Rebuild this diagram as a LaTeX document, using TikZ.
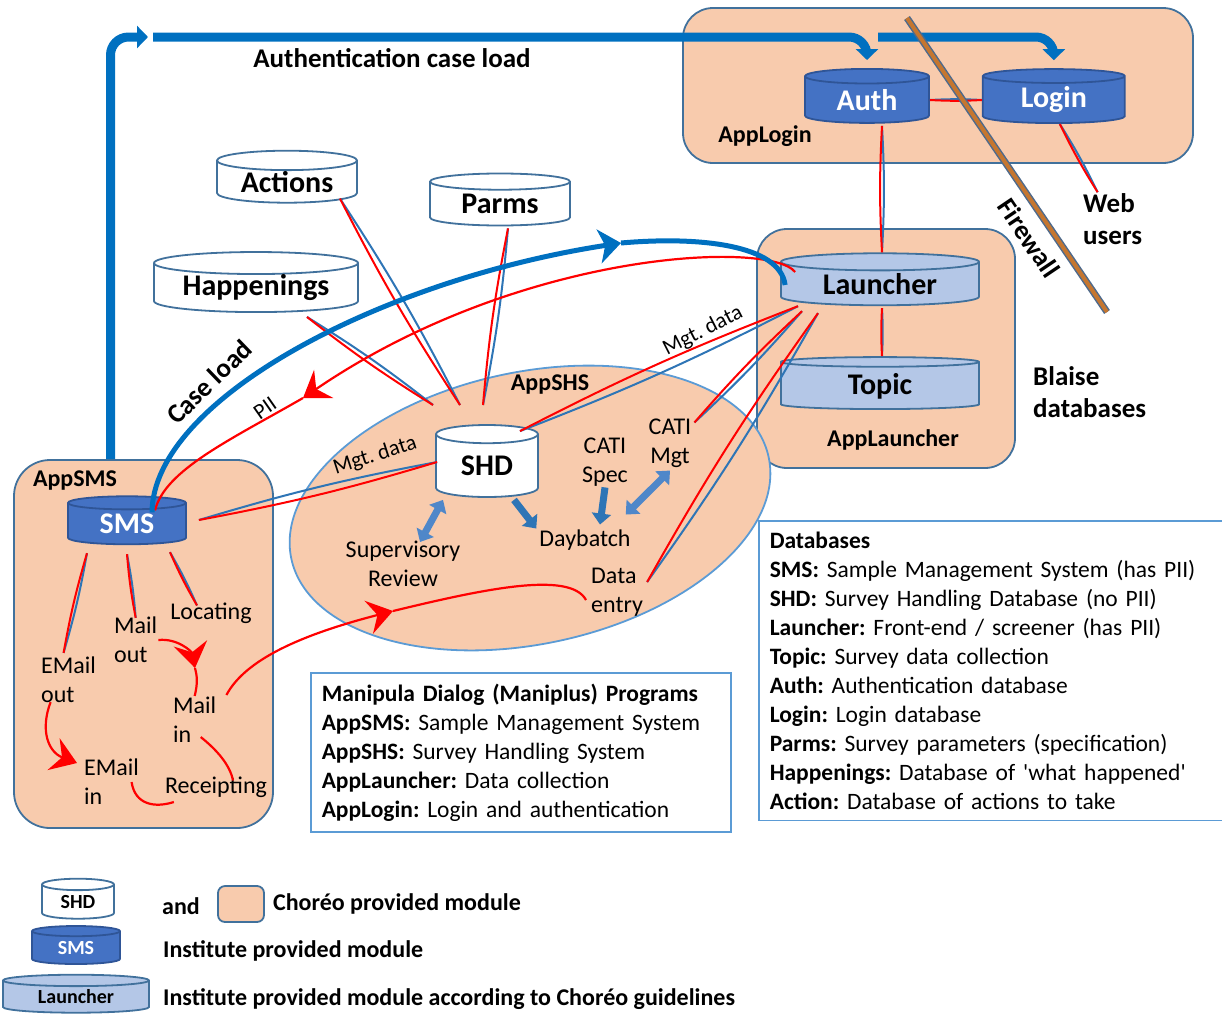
\documentclass[tikz,border=0pt]{standalone}
\usepackage{fontspec}
\setmainfont{Carlito}
\frenchspacing
\usetikzlibrary{arrows.meta,shapes.geometric,positioning,calc}

\definecolor{peach}{HTML}{F8CBAD}
\definecolor{boxedge}{HTML}{41719C}
\definecolor{instblue}{HTML}{4472C4}
\definecolor{instedge}{HTML}{2F5597}
\definecolor{guideblue}{HTML}{B4C7E7}
\definecolor{loadblue}{HTML}{0070C0}
\definecolor{linkblue}{HTML}{2E75B6}
\definecolor{linkred}{HTML}{FF0000}
\definecolor{shsedge}{HTML}{5B9BD5}
\definecolor{batchblue}{HTML}{4F87C9}
\definecolor{fwbrown}{HTML}{C5762F}
\definecolor{fwedge}{HTML}{4E6A8C}

\newcommand{\dbfont}{\fontsize{30}{32}\selectfont\bfseries}
\newcommand{\headfont}{\fontsize{27}{32}\selectfont\bfseries}
\newcommand{\appfont}{\fontsize{24}{28}\selectfont\bfseries}
\newcommand{\labfont}{\fontsize{24}{29}\selectfont}
\newcommand{\notefont}{\fontsize{23.5}{29}\selectfont}
\newcommand{\legfont}{\fontsize{24}{28}\selectfont\bfseries}
\newcommand{\smallfont}{\fontsize{22}{24}\selectfont}
\newcommand{\legdbfont}{\fontsize{20}{22}\selectfont\bfseries}

% blue and red line pair between two points
\newcommand{\datalink}[2]{%
  \draw[bluelink] (#1) to[bend left=3] (#2);
  \draw[redlink] (#1) to[bend right=3] (#2);}

\tikzset{
  module/.style={draw=boxedge, fill=peach, line width=1.8pt, rounded corners=30pt},
  db/.style={cylinder, shape border rotate=90, draw=boxedge, line width=1.8pt,
    inner sep=0pt, cylinder uses custom fill, font=\dbfont},
  whitedb/.style={db, cylinder body fill=white, cylinder end fill=white},
  instdb/.style={db, draw=instedge, cylinder body fill=instblue,
    cylinder end fill=instblue, text=white},
  guidedb/.style={db, cylinder body fill=guideblue, cylinder end fill=guideblue},
  bluelink/.style={draw=linkblue, line width=2pt},
  redlink/.style={draw=linkred, line width=2pt},
  loadflow/.style={draw=loadblue, line width=9pt, rounded corners=18pt,
    -{Triangle[length=11pt,width=22pt]}},
  caseflow/.style={draw=loadblue, line width=5pt},
  redflow/.style={draw=linkred, line width=2.2pt},
  redtip/.style={-{Stealth[length=25pt,width=34pt,inset=9pt]}},
  caseflowtip/.style={-{Stealth[length=22pt,width=34pt,inset=6pt]}},
  batch/.style={draw=linkblue, line width=7pt, -{Triangle[length=11pt,width=19pt]}},
  twoway/.style={draw=batchblue, line width=7pt,
    {Triangle[length=11pt,width=19pt]}-{Triangle[length=11pt,width=19pt]}},
  note/.style={draw=shsedge, line width=1.5pt, align=left, font=\notefont,
    inner sep=11pt, anchor=north west},
  lab/.style={font=\labfont, inner sep=1pt},
  firewall/.style={draw=fwedge, line width=1.5pt, double=fwbrown, double distance=4pt}
}

\begin{document}
\begin{tikzpicture}[x=1pt, y=-1pt]
  \useasboundingbox (0,0) rectangle (1222,1015);

  % MODULES
  \node[module, minimum width=510pt, minimum height=155pt] (applogin) at (938,85.5) {};
  \node[module, minimum width=258pt, minimum height=239pt] (applauncher) at (886,348.5) {};
  \node[module, minimum width=259pt, minimum height=368pt, rounded corners=36pt]
    (appsms) at (143.5,644) {};
  \node[ellipse, draw=shsedge, fill=peach, line width=1.8pt,
    minimum width=488pt, minimum height=272pt, rotate=12] (appshs) at (530,508) {};

  \node[font=\appfont] (apploginlabel) at (765,136) {AppLogin};
  \node[font=\appfont] (applauncherlabel) at (893,440) {AppLauncher};
  \node[font=\appfont] (appsmslabel) at (75,481) {AppSMS};
  \node[font=\appfont] (appshslabel) at (550,385) {AppSHS};

  % DATABASES
  \node[instdb, minimum width=124pt, minimum height=54pt, aspect=0.24] (auth) at (867,100) {Auth};
  \node[instdb, minimum width=142pt, minimum height=54pt, aspect=0.21,
    right=52pt of auth] (login) {Login};
  \node[guidedb, minimum width=198pt, minimum height=52pt, aspect=0.15] (launcher) at (880,284) {Launcher};
  \node[guidedb, minimum width=198pt, minimum height=52pt, aspect=0.15,
    below=50pt of launcher] (topic) {Topic};
  \node[whitedb, minimum width=140pt, minimum height=52pt, aspect=0.21] (actions) at (287,182) {Actions};
  \node[whitedb, minimum width=140pt, minimum height=52pt, aspect=0.21] (parms) at (500,204) {Parms};
  \node[whitedb, minimum width=204pt, minimum height=50pt, aspect=0.15] (happenings) at (256,288) {Happenings};
  \node[whitedb, minimum width=102pt, minimum height=72pt, aspect=0.35] (shd) at (487,466) {SHD};
  \node[instdb, minimum width=118pt, minimum height=48pt, aspect=0.24] (sms) at (127,524) {SMS};

  % LABELS
  \node[font=\headfont] (authload) at (392,58) {Authentication case load};
  \node[font=\headfont, align=left, anchor=west, inner sep=0pt] (web) at (1083,219) {Web\\users};
  \node[font=\headfont, align=left, anchor=west, inner sep=0pt] (blaise) at (1033,392) {Blaise\\databases};
  \node[font=\headfont, rotate=-56, inner sep=0pt] (fwlabel) at (1029,238) {Firewall};
  \node[font=\headfont, rotate=44, inner sep=0pt] (caseloadlabel) at (209,382) {Case load};
  \node[font=\smallfont, rotate=35, inner sep=0pt] (piilabel) at (265,408) {PII};
  \node[font=\smallfont, rotate=27, inner sep=0pt] (mgtupper) at (703,331) {Mgt. data};
  \node[font=\smallfont, rotate=18, inner sep=0pt] (mgtlower) at (375,456) {Mgt. data};

  \node[lab, align=left, anchor=west] (emailout) at (40,680) {EMail\\out};
  \node[lab, align=left, anchor=west] (mailout) at (113,640) {Mail\\out};
  \node[lab] (locating) at (211,613) {Locating};
  \node[lab, align=left, anchor=west] (mailin) at (172,720) {Mail\\in};
  \node[lab, align=left, anchor=west] (emailin) at (83,782) {EMail\\in};
  \node[lab] (receipting) at (216,787) {Receipting};

  \node[lab, align=center] (supervisory) at (403,564) {Supervisory\\Review};
  \node[lab] (daybatch) at (585,540) {Daybatch};
  \node[lab, align=center] (catispec) at (605,462) {CATI\\Spec};
  \node[lab, align=center] (catimgt) at (670,443) {CATI\\Mgt};
  \node[lab, align=left, anchor=west] (dataentry) at (590,592) {Data\\entry};

  % NOTES
  \node[note, text width=398pt] (maniplus) at (310,672) {%
    \textbf{Manipula Dialog (Maniplus) Programs}\\
    \textbf{AppSMS:} Sample Management System\\
    \textbf{AppSHS:} Survey Handling System\\
    \textbf{AppLauncher:} Data collection\\
    \textbf{AppLogin:} Login and authentication};
  \node[note, text width=446pt] (dblist) at (758,520) {%
    \textbf{Databases}\\
    \textbf{SMS:} Sample Management System (has PII)\\
    \textbf{SHD:} Survey Handling Database (no PII)\\
    \textbf{Launcher:} Front-end / screener (has PII)\\
    \textbf{Topic:} Survey data collection\\
    \textbf{Auth:} Authentication database\\
    \textbf{Login:} Login database\\
    \textbf{Parms:} Survey parameters (specification)\\
    \textbf{Happenings:} Database of \textquotesingle what happened\textquotesingle\\
    \textbf{Action:} Database of actions to take};

  % LEGEND
  \node[whitedb, minimum width=72pt, minimum height=40pt, aspect=0.33, font=\legdbfont] (legshd) at (78,902) {SHD};
  \node[font=\legfont] (legand) at (181,906) {and};
  \node[module, minimum width=46pt, minimum height=36pt, rounded corners=7pt] (legmodule) at (241,904) {};
  \node[font=\legfont, right=8pt of legmodule, inner sep=0pt] (legchoreo) {Choréo provided module};
  \node[instdb, minimum width=88pt, minimum height=38pt, aspect=0.28, font=\legdbfont] (legsms) at (76,948) {SMS};
  \node[font=\legfont, anchor=west, inner sep=0pt] (leginst) at (163,951) {Institute provided module};
  \node[guidedb, minimum width=146pt, minimum height=38pt, aspect=0.15, font=\legdbfont] (leglauncher) at (76,997) {Launcher};
  \node[font=\legfont, anchor=west, inner sep=0pt] (legguide) at (163,999)
    {Institute provided module according to Choréo guidelines};

  % COORDINATES
  \coordinate (loadgap) at (148,37);
  \coordinate (loadresume) at (153,37);
  \coordinate (webload) at (878,37);
  \coordinate (caseloadtip) at (621,243);
  \coordinate (piitip) at (303,398);
  \coordinate (mailtip) at (195,668);
  \coordinate (entrytip) at (393,611);
  \coordinate (happeningsend) at (433,405);
  \coordinate (actionsend) at (460,405);
  \coordinate (parmsend) at (483,405);
  \coordinate (fwtop) at (907,18);
  \coordinate (fwbottom) at (1107,312);

  % LINE PAIRS
  \datalink{$(actions.south)+(53,-5)$}{actionsend}
  \datalink{$(happenings.south)+(51,4)$}{happeningsend}
  \datalink{$(parms.south)+(8,2)$}{parmsend}
  \datalink{$(launcher.south)+(-82,0)$}{$(shd.north)+(33,7)$}
  \datalink{$(launcher.south)+(-78,5)$}{$(catimgt.north east)+(2,5)$}
  \datalink{$(launcher.south)+(-62,7)$}{$(dataentry.east)+(3,-10)$}
  \datalink{$(sms.east)+(12,-4)$}{$(shd.west)+(2,-4)$}
  \datalink{$(auth.south)+(15,2)$}{$(launcher.north)+(2,0)$}
  \datalink{auth.east}{login.west}
  \datalink{$(login.south)+(6,0)$}{$(web.north)+(-15,-1)$}
  \datalink{$(launcher.south)+(2,2)$}{$(topic.north)+(2,0)$}
  \datalink{$(sms.south)+(-40,8)$}{$(emailout.north)+(-5,-3)$}
  \datalink{$(sms.south)+(0,9)$}{$(mailout.north)+(0,2)$}
  \datalink{$(sms.south)+(43,7)$}{$(locating.north)+(-14,4)$}

  % RED FLOWS
  \draw[redflow, redtip] ($(launcher.west)+(15,-12)$) .. controls (770,240) and (520,250) .. (piitip);
  \draw[redflow] (piitip) .. controls (230,440) and (165,470) .. ($(sms.north)+(28,15)$);
  \draw[redflow, redtip] (mailout.east) .. controls (178,638) and (192,652) .. (mailtip);
  \draw[redflow] (mailtip) .. controls (197,676) and (198,682) .. (mailin.north);
  \draw[redflow, redtip] ($(emailout.south)+(-18,-2)$) .. controls (40,730) and (48,752)
    .. ($(emailin.west)+(-6,-19)$);
  \draw[redflow] ($(emailin.center)+(20,0)$) .. controls (135,805) and (155,808)
    .. ($(receipting.west)+(10,15)$);
  \draw[redflow] ($(mailin.south)+(6,-7)$) .. controls (217,750) and (230,765)
    .. ($(receipting.north)+(17,5)$);
  \draw[redflow, redtip] ($(mailin.east)+(9,-25)$) .. controls (245,660) and (300,635) .. (entrytip);
  \draw[redflow] (entrytip) .. controls (480,590) and (570,570) .. ($(dataentry.west)+(-4,8)$);

  % SHS ARROWS
  \draw[twoway] ($(shd.south)+(-44,2)$) -- ($(supervisory.north)+(17,2)$);
  \draw[batch] ($(shd.south)+(27,2)$) -- ($(daybatch.north west)+(-2,0)$);
  \draw[batch] (catispec.south) -- ($(daybatch.north)+(15,-4)$);
  \draw[twoway] ($(catimgt.south)+(0,2)$) -- ($(daybatch.north east)+(-6,-14)$);

  % CASE LOAD
  \draw[caseflow, caseflowtip] ($(sms.north)+(25,17)$) .. controls (153,400) and (380,280) .. (caseloadtip);
  \draw[caseflow] (caseloadtip) .. controls (700,236) and (780,245) .. ($(launcher.west)+(5,1)$);
  \draw[loadflow] ($(appsms.north)+(-33,0)$) |- (loadgap);
  \draw[loadflow] (loadresume) -| ($(auth.north)+(0,-8)$);
  \draw[loadflow] (webload) -| ($(login.north)+(0,-8)$);

  % FIREWALL
  \draw[firewall] (fwtop) -- (fwbottom);
\end{tikzpicture}
\end{document}
